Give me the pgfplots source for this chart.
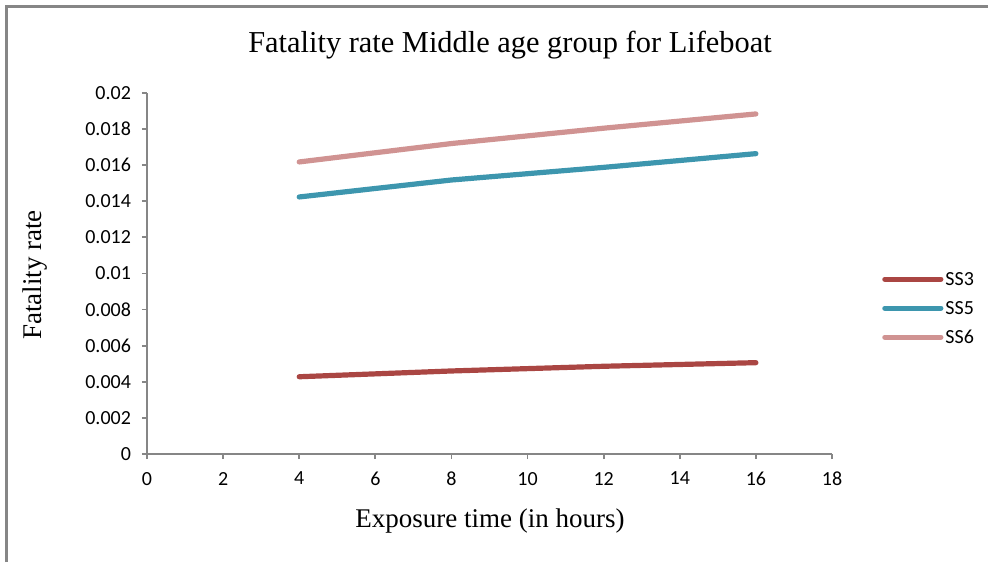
\documentclass[border=0pt]{standalone}
\usepackage{pgfplots}
\pgfplotsset{compat=1.18}
\usepackage{fontspec}
\setmainfont{Liberation Serif}
\newfontfamily\carlito{Carlito}
\definecolor{ssthree}{HTML}{AA4643}
\definecolor{ssfive}{HTML}{3D96AE}
\definecolor{sssix}{HTML}{D09392}
\definecolor{axgray}{HTML}{868686}
\begin{document}
\begin{tikzpicture}[x=1pt,y=1pt]
\path[use as bounding box] (0,0) rectangle (494,281);
\draw[axgray, line width=1.5pt] (3,0) -- (3,277.5) -- (494,277.5);
\node[font=\fontsize{15.2}{18}\selectfont] at (255,258.5) {Fatality rate Middle age group for Lifeboat};
\node[font=\fontsize{13.5}{16}\selectfont] at (245,20.5) {Exposure time (in hours)};
\node[font=\fontsize{13.5}{16}\selectfont, rotate=90] at (17.5,143.5) {Fatality rate};
\begin{axis}[
  at={(73.5pt,54pt)}, anchor=origin,
  scale only axis, width=342.5pt, height=180.5pt,
  xmin=0, xmax=18, ymin=0, ymax=0.02,
  axis lines=left,
  axis line style={axgray, line width=0.9pt, -},
  xtick={0,2,...,18},
  ytick={0,0.002,0.004,0.006,0.008,0.01,0.012,0.014,0.016,0.018,0.02},
  yticklabels={0,0.002,0.004,0.006,0.008,0.01,0.012,0.014,0.016,0.018,0.02},
  xticklabels={0,2,4,6,8,10,12,14,16,18},
  tick align=outside,
  major tick length=2.5pt,
  tick style={axgray, line width=0.9pt},
  tick label style={font=\carlito\fontsize{10}{12}\selectfont, text=black},
  xticklabel style={yshift=-3pt},
  yticklabel style={xshift=-2pt},
  scaled y ticks=false,
  legend style={draw=none, fill=none, at={(1.064,0.404)}, anchor=west,
    font=\carlito\fontsize{10}{12}\selectfont,
    nodes={inner sep=1pt, text height=7pt, text depth=1pt},
    row sep=4.5pt},
  legend cell align=left,
  legend image code/.code={\draw[#1] (0pt,0pt) -- (28pt,0pt);},
  every axis plot/.append style={line width=2.6pt, line cap=round, line join=round},
]
\addplot[ssthree] coordinates {(4,0.00428) (8,0.0046) (12,0.00486) (16,0.00506)};
\addlegendentry{SS3}
\addplot[ssfive] coordinates {(4,0.01424) (8,0.01518) (12,0.01588) (16,0.01664)};
\addlegendentry{SS5}
\addplot[sssix] coordinates {(4,0.01618) (8,0.0172) (12,0.01805) (16,0.01884)};
\addlegendentry{SS6}
\end{axis}
\end{tikzpicture}
\end{document}
